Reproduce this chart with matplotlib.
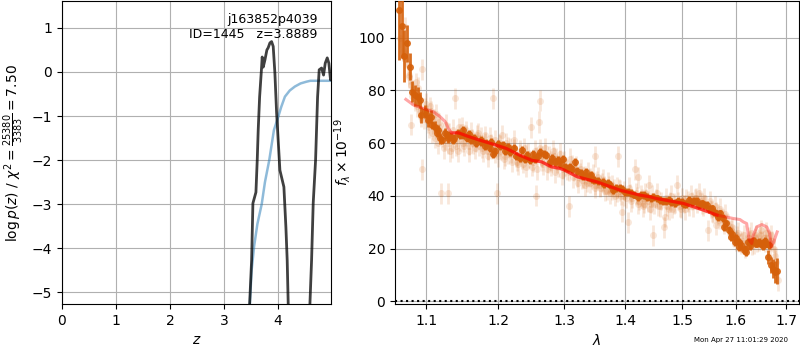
import numpy as np
import matplotlib
matplotlib.use("Agg")
import matplotlib.pyplot as plt

# ----------------------------
# p(z) panel
# ----------------------------
z_pdf_a = [3.40, 3.476, 3.513, 3.537, 3.593, 3.617, 3.635, 3.661, 3.698, 3.709, 3.728,
           3.759, 3.796, 3.820, 3.852, 3.883, 3.913, 3.944, 3.976, 4.037, 4.111,
           4.148, 4.172, 4.191, 4.25]
logp_a = [-8.0, -5.27, -4.27, -2.98, -2.73, -2.00, -1.32, -0.57, 0.11, 0.34, 0.11,
          0.27, 0.50, 0.55, 0.66, 0.69, 0.58, -0.02, -0.93, -2.23, -2.61,
          -3.52, -4.27, -5.27, -8.0]
z_pdf_b = [4.52, 4.593, 4.624, 4.654, 4.698, 4.735, 4.765, 4.809, 4.846, 4.877,
           4.914, 4.944, 4.975, 4.99]
logp_b = [-8.0, -5.27, -4.27, -2.98, -2.00, -0.57, 0.05, 0.09, -0.07, 0.20,
          0.32, 0.20, -0.18, 0.0]

z_prior = [3.45, 3.48, 3.513, 3.56, 3.62, 3.70, 3.76, 3.84, 3.926, 4.006, 4.06,
           4.13, 4.22, 4.315, 4.42, 4.531, 4.60, 4.747, 4.99]
log_prior = [-6.0, -5.27, -4.5, -3.95, -3.45, -3.0, -2.5, -2.0, -1.32, -1.02, -0.80,
             -0.56, -0.42, -0.33, -0.26, -0.22, -0.20, -0.20, -0.20]

# ----------------------------
# spectrum panel: binned points (two orients)
# ----------------------------
lam_bin = [1.0647, 1.068, 1.0713, 1.0745, 1.0789, 1.0818, 1.085, 1.0889, 1.0919, 1.094,
           1.0985, 1.1029, 1.107, 1.112, 1.116, 1.119, 1.126, 1.130, 1.134, 1.138,
           1.1465, 1.151, 1.158, 1.166, 1.176, 1.183, 1.1905, 1.193, 1.200, 1.2072,
           1.215, 1.2236, 1.2347, 1.243, 1.2516, 1.260, 1.2688, 1.2805, 1.290, 1.2984,
           1.3097, 1.3166, 1.3262, 1.335, 1.343, 1.3486, 1.3625, 1.370, 1.379, 1.390,
           1.400, 1.410, 1.4215, 1.432, 1.4433, 1.4544, 1.465, 1.475, 1.487, 1.4985,
           1.507, 1.517, 1.526, 1.5355, 1.545, 1.554, 1.563, 1.5697, 1.575, 1.582,
           1.5875, 1.5935, 1.600, 1.6055, 1.610, 1.6153, 1.620, 1.624, 1.6305, 1.635,
           1.640, 1.645, 1.650, 1.655, 1.660, 1.6636, 1.669, 1.6735, 1.678, 1.6825]
flux_bin = [110.5, 104.4, 93.0, 97.9, 89.0, 79.5, 78.2, 77.6, 76.3, 70.6,
            72.0, 68.7, 70.0, 66.2, 65.0, 61.8, 63.7, 62.0, 62.5, 62.0,
            63.0, 65.0, 63.5, 61.8, 61.1, 60.0, 60.5, 56.0, 59.5, 59.2,
            58.5, 58.0, 57.3, 55.5, 56.0, 55.0, 56.0, 54.2, 53.5, 54.0,
            51.0, 52.9, 48.5, 49.0, 47.9, 46.0, 45.3, 45.0, 42.2, 43.0,
            41.5, 41.0, 39.6, 40.2, 39.0, 39.0, 38.0, 38.4, 37.2, 37.7,
            37.0, 37.7, 38.0, 37.1, 36.5, 35.2, 33.3, 33.3, 31.5, 29.5,
            27.0, 25.7, 24.0, 22.5, 21.3, 19.4, 18.7, 22.5, 22.5, 23.0,
            21.9, 22.5, 21.9, 22.3, 21.9, 16.8, 13.7, 12.4, 11.1, 11.5]
err_bin = [19.0, 12.0, 10.0, 7.0, 5.0, 4.0, 4.0, 3.5, 3.0, 3.0,
           2.5, 2.5, 2.5, 2.0, 2.0, 2.0, 2.0, 2.0, 1.5, 1.5,
           1.5, 1.5, 1.5, 1.5, 1.5, 1.5, 1.5, 1.5, 1.5, 1.5,
           1.5, 1.5, 1.5, 1.5, 1.5, 1.5, 1.5, 1.5, 1.5, 1.5,
           1.5, 1.5, 1.5, 1.5, 1.5, 1.5, 1.5, 1.5, 1.5, 1.5,
           1.5, 1.5, 1.5, 1.5, 1.5, 1.5, 1.5, 1.5, 1.5, 1.5,
           1.5, 1.5, 1.5, 1.5, 1.5, 1.5, 1.5, 1.5, 1.5, 1.5,
           1.5, 1.5, 1.5, 1.5, 1.5, 1.5, 1.5, 1.5, 1.5, 1.5,
           1.5, 1.5, 1.5, 1.5, 1.5, 2.5, 3.0, 3.5, 4.0, 5.0]

lam_bin2 = [1.100, 1.108, 1.115, 1.122, 1.129, 1.136, 1.143, 1.150, 1.156, 1.162,
            1.169, 1.176, 1.182, 1.188, 1.195, 1.203, 1.210, 1.218, 1.226, 1.232,
            1.240, 1.248, 1.255, 1.263, 1.272, 1.278, 1.286, 1.294, 1.302, 1.306,
            1.313, 1.320, 1.330, 1.338, 1.345, 1.355, 1.365, 1.374, 1.384, 1.395,
            1.405, 1.415, 1.427, 1.437, 1.448, 1.460, 1.470, 1.480, 1.492, 1.502,
            1.512, 1.521, 1.531, 1.540, 1.549, 1.558, 1.566, 1.578, 1.590, 1.598,
            1.607, 1.617, 1.627, 1.633, 1.643, 1.653, 1.658, 1.665]
flux_bin2 = [71, 67, 64, 61, 63, 61, 64, 63, 62, 61,
             60, 60.5, 59, 58, 57, 59, 57, 56.5, 55, 54.5,
             54, 53.5, 54, 56.5, 55.5, 53, 53, 52, 51, 50.5,
             50, 49.5, 47.5, 47, 46.5, 45.5, 44.5, 44, 43, 42.5,
             41.5, 40.5, 40.5, 39.5, 39.5, 38.5, 38, 37.5, 38, 37,
             38.5, 38, 36.5, 36.5, 35, 34, 32, 28, 24.5, 22.5,
             20.5, 20, 21, 23, 22, 21, 23, 21.5]
err_bin2 = 1.5

# ----------------------------
# spectrum panel: individual beam points (faint)
# ----------------------------
lam_beam = [1.066, 1.070, 1.073, 1.076, 1.078, 1.080, 1.080, 1.083, 1.086, 1.088,
            1.090, 1.092, 1.094, 1.095, 1.095, 1.098, 1.100, 1.102, 1.104, 1.106,
            1.108, 1.110, 1.112, 1.114, 1.116, 1.118, 1.120, 1.121, 1.124, 1.127,
            1.129, 1.130, 1.133, 1.136, 1.139, 1.140, 1.143, 1.146, 1.149, 1.152,
            1.155, 1.158, 1.161, 1.164, 1.167, 1.170, 1.173, 1.176, 1.179, 1.182,
            1.185, 1.188, 1.191, 1.193, 1.196, 1.199, 1.200, 1.203, 1.206, 1.209,
            1.212, 1.215, 1.218, 1.221, 1.224, 1.227, 1.230, 1.233, 1.236, 1.239,
            1.242, 1.245, 1.249, 1.252, 1.255, 1.256, 1.258, 1.261, 1.263, 1.264,
            1.267, 1.270, 1.273, 1.276, 1.279, 1.282, 1.285, 1.288, 1.291, 1.294,
            1.297, 1.300, 1.304, 1.3075, 1.310, 1.314, 1.318, 1.322, 1.326, 1.330,
            1.334, 1.338, 1.342, 1.346, 1.350, 1.350, 1.354, 1.358, 1.362, 1.366,
            1.370, 1.374, 1.378, 1.382, 1.386, 1.388, 1.390, 1.395, 1.398, 1.404,
            1.406, 1.410, 1.416, 1.418, 1.421, 1.422, 1.426, 1.430, 1.434, 1.438,
            1.440, 1.442, 1.446, 1.448, 1.450, 1.455, 1.460, 1.466, 1.468, 1.470,
            1.475, 1.480, 1.485, 1.490, 1.495, 1.500, 1.505, 1.510, 1.515, 1.520,
            1.525, 1.530, 1.535, 1.540, 1.547, 1.550, 1.555, 1.560, 1.563, 1.565,
            1.570, 1.575, 1.580, 1.585, 1.590, 1.595, 1.600, 1.605, 1.610, 1.615,
            1.620, 1.625, 1.630, 1.635, 1.640, 1.645, 1.650, 1.655, 1.660, 1.665,
            1.670, 1.675, 1.680, 1.683]
flux_beam = [100, 95, 104, 90, 85, 82, 67, 80, 76, 74,
             81, 72, 70, 88, 50, 73, 75, 68, 66, 72,
             64, 69, 62, 71, 60, 66, 41, 64, 58, 67,
             41, 60, 57, 65, 77, 59, 57, 61, 66, 59,
             63, 57, 64, 60, 58, 63, 59, 62, 57, 60,
             55, 62, 58, 77, 61, 41, 55, 59, 63, 54,
             60, 56, 58, 53, 61, 55, 52, 57, 54, 58,
             51, 56, 66, 53, 57, 40, 50, 68, 76, 55,
             52, 58, 50, 55, 53, 57, 49, 54, 51, 56,
             48, 53, 50, 36, 54, 47, 51, 45, 50, 47,
             44, 49, 45, 48, 43, 55, 47, 44, 46, 42,
             45, 41, 44, 40, 43, 55, 42, 34, 40, 30,
             43, 38, 50, 41, 47, 37, 40, 36, 41, 38,
             44, 35, 40, 25, 37, 41, 36, 28, 32, 39,
             35, 40, 37, 44, 36, 39, 35, 38, 40, 36,
             39, 41, 37, 39, 27, 38, 34, 36, 29, 33,
             35, 31, 33, 29, 27, 25, 23, 26, 22, 25,
             21, 24, 26, 22, 25, 23, 27, 24, 26, 23,
             25, 20, 15, 8]
err_beam = 4.0

lam_beam2 = [1.072, 1.077, 1.082, 1.087, 1.091, 1.097, 1.101, 1.105, 1.109, 1.113,
             1.117, 1.122, 1.126, 1.131, 1.135, 1.141, 1.145, 1.150, 1.154, 1.159,
             1.163, 1.168, 1.172, 1.177, 1.181, 1.186, 1.190, 1.195, 1.201, 1.205,
             1.210, 1.214, 1.219, 1.223, 1.228, 1.232, 1.237, 1.241, 1.246, 1.251,
             1.257, 1.262, 1.266, 1.271, 1.275, 1.280, 1.284, 1.289, 1.293, 1.298,
             1.302, 1.308, 1.312, 1.316, 1.320, 1.325, 1.329, 1.333, 1.337, 1.341,
             1.345, 1.349, 1.353, 1.357, 1.361, 1.365, 1.369, 1.373, 1.377, 1.381,
             1.385, 1.389, 1.393, 1.397, 1.401, 1.408, 1.412, 1.420, 1.424, 1.428,
             1.432, 1.436, 1.444, 1.452, 1.457, 1.462, 1.472, 1.477, 1.482, 1.487,
             1.492, 1.497, 1.502, 1.507, 1.512, 1.517, 1.522, 1.527, 1.532, 1.537,
             1.542, 1.552, 1.557, 1.562, 1.567, 1.572, 1.577, 1.582, 1.587, 1.592,
             1.597, 1.602, 1.607, 1.612, 1.617, 1.622, 1.627, 1.632, 1.637, 1.642,
             1.647, 1.652, 1.657, 1.662, 1.667, 1.672, 1.677]
flux_beam2 = [92, 86, 78, 83, 75, 69, 71, 74, 67, 65,
              68, 62, 61, 64, 58, 62, 66, 60, 65, 59,
              62, 60, 64, 58, 63, 57, 60, 56, 60, 57,
              55, 59, 56, 58, 53, 56, 52, 56, 54, 51,
              55, 58, 53, 56, 52, 51, 55, 52, 54, 50,
              51, 49, 52, 49, 47, 49, 46, 48, 45, 47,
              46, 44, 46, 43, 45, 44, 42, 44, 42, 43,
              41, 43, 40, 42, 39, 41, 39, 40, 38, 39,
              37, 39, 37, 39, 36, 38, 36, 38, 35, 37,
              38, 35, 37, 39, 36, 38, 39, 37, 38, 36,
              37, 35, 33, 34, 31, 32, 29, 30, 27, 28,
              24, 25, 22, 23, 20, 22, 23, 21, 24, 22,
              25, 23, 22, 24, 21, 23, 17]
err_beam2 = 3.5

# ----------------------------
# model
# ----------------------------
lam_model = [1.0735, 1.0838, 1.096, 1.1097, 1.119, 1.126, 1.130, 1.1348, 1.144, 1.156,
             1.174, 1.193, 1.212, 1.232, 1.2497, 1.265, 1.280, 1.2935, 1.300, 1.321,
             1.3525, 1.3904, 1.424, 1.443, 1.453, 1.502, 1.538, 1.564, 1.595, 1.608,
             1.6145, 1.621, 1.626, 1.631, 1.634, 1.641, 1.651, 1.661, 1.667, 1.670,
             1.675, 1.682]
flux_model = [76.6, 74.4, 73.2, 71.9, 70.0, 68.1, 65.6, 63.9, 63.9, 62.7,
              61.1, 59.6, 58.0, 55.4, 53.5, 52.9, 51.0, 50.4, 49.8, 47.2,
              45.3, 42.2, 40.3, 39.6, 39.0, 37.1, 34.6, 32.7, 31.4, 31.0,
              30.1, 29.5, 23.2, 21.9, 25.0, 28.2, 29.1, 28.2, 25.7, 20.6,
              22.5, 26.3]

c_data = '#d5600a'

fig = plt.figure(figsize=(8, 3.5), dpi=100)

# ----------------------------
# Left: log p(z)
# ----------------------------
ax = fig.add_axes([0.0775, 0.131, 0.336, 0.866])
ax.plot(z_prior, log_prior, color='tab:blue', alpha=0.5, lw=1.8)
ax.plot(z_pdf_a, logp_a, color='k', alpha=0.75, lw=2)
ax.plot(z_pdf_b, logp_b, color='k', alpha=0.75, lw=2)
ax.set_xlim(0, 4.98)
ax.set_ylim(-5.27, 1.61)
ax.set_xticks([0, 1, 2, 3, 4])
ax.set_yticks([-5, -4, -3, -2, -1, 0, 1])
ax.grid()
ax.set_xlabel(r'$z$')
ax.set_ylabel(r'$\log p(z)$' + ' / ' + r'$\chi^2=\frac{25380}{3383}=7.50$')
ax.text(0.95, 0.96, 'j163852p4039\nID=1445   z=3.8889', ha='right', va='top',
        transform=ax.transAxes, fontsize=9)

# ----------------------------
# Right: spectrum
# ----------------------------
ax2 = fig.add_axes([0.49375, 0.131, 0.505, 0.866])
for lam, flux, err in [(lam_beam, flux_beam, err_beam), (lam_beam2, flux_beam2, err_beam2)]:
    ax2.errorbar(lam, flux, yerr=err, fmt='o', color=c_data,
                 alpha=0.15, ms=5, elinewidth=2, capsize=0, mec='none')
for lam, flux, err in [(lam_bin, flux_bin, err_bin), (lam_bin2, flux_bin2, err_bin2)]:
    ax2.errorbar(lam, flux, yerr=err, fmt='o', color=c_data,
                 alpha=0.9, ms=5, elinewidth=2, capsize=0, mec='none', zorder=3)

lm = np.array(lam_model)
fm = np.array(flux_model)
ax2.plot(lm, fm, color='r', alpha=0.35, lw=2.2, zorder=4)
core = (lm > 1.134) & (lm < 1.57)
ax2.plot(lm[core], fm[core], color='r', alpha=0.55, lw=2.2, zorder=4)

ax2.axhline(0, color='k', ls=':', lw=1.5)
ax2.set_xscale('log')
ax2.set_xlim(1.0595, 1.727)
ax2.set_ylim(-1.1, 113.9)
xt = [1.1, 1.2, 1.3, 1.4, 1.5, 1.6, 1.7]
ax2.set_xticks(xt)
ax2.set_xticklabels(['{0:.1f}'.format(t) for t in xt])
ax2.xaxis.set_minor_locator(matplotlib.ticker.NullLocator())
ax2.set_yticks([0, 20, 40, 60, 80, 100])
ax2.grid()
ax2.set_xlabel(r'$\lambda$')
ax2.set_ylabel(r'$f_\lambda \times 10^{-19}$')

fig.text(1 - 0.015, 0.02, 'Mon Apr 27 11:01:29 2020', ha='right', va='bottom',
         fontsize=5)

fig.savefig('out.png', dpi=100)
